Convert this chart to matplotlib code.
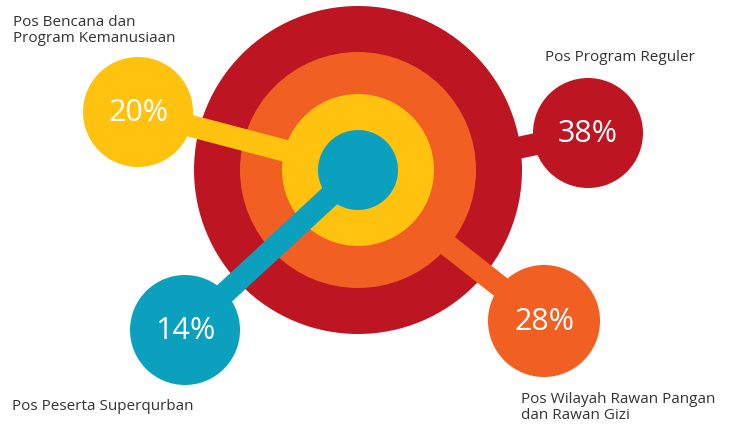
import matplotlib.pyplot as plt
from matplotlib.patches import Circle

# data
labels = ["Pos Program Reguler", "Pos Wilayah Rawan Pangan\ndan Rawan Gizi",
          "Pos Bencana dan\nProgram Kemanusiaan", "Pos Peserta Superqurban"]
values = [38, 28, 20, 14]
colors = ["#BD1622", "#F15F22", "#FFC20E", "#0AA0BE"]

# layout (pixel coords, y down)
cx, cy = 358, 170
ring_r = [164, 118, 76, 40]
sat_xy = [(588, 133), (544, 321), (138, 112), (185, 330)]
sat_r = [55, 56, 55, 55]
bar_to = [(358, 182), (358, 175), (358, 170), (358, 170)]
# baseline of last line of each label
lab_xy = [(545, 61), (521, 419), (13, 42), (12, 410)]

fig = plt.figure(figsize=(7.31, 4.25), dpi=100)
ax = fig.add_axes([0, 0, 1, 1])
ax.set_xlim(0, 731)
ax.set_ylim(425, 0)
ax.set_aspect('equal')
ax.axis('off')

for i, (v, c) in enumerate(zip(values, colors)):
    z = 2 + i * 3
    ax.add_patch(Circle((cx, cy), ring_r[i], color=c, zorder=z, lw=0))
    sx, sy = sat_xy[i]
    tx, ty = bar_to[i]
    ax.plot([sx, tx], [sy, ty], color=c, lw=22 * 0.72, solid_capstyle='butt', zorder=z + 1)
    ax.add_patch(Circle((sx, sy), sat_r[i], color=c, zorder=z + 2, lw=0))
    ax.text(sx, sy + 1, f"{v}%", color='white', fontsize=22, family='Open Sans',
            ha='center', va='center', zorder=20)

for lab, (lx, ly) in zip(labels, lab_xy):
    ax.text(lx, ly, lab, color='#333333', fontsize=11, family='Open Sans',
            ha='left', va='baseline', linespacing=1.1, zorder=20)

fig.savefig("out.png", dpi=100, facecolor='white')
